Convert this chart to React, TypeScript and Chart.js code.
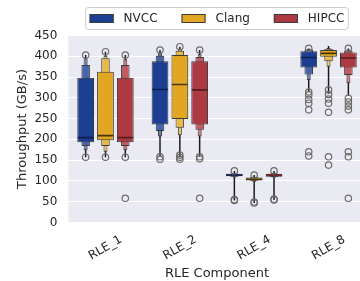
import React, { useEffect, useRef } from 'react';
import { Chart, registerables } from 'chart.js';

Chart.register(...registerables);

const categories = ['RLE_1', 'RLE_2', 'RLE_4', 'RLE_8'];
const compilers = ['NVCC', 'Clang', 'HIPCC'];
const yMin = 0;
const yMax = 450;
const yStep = 50;

// Letter-value boxes per category: [low, high]
const nvccBox1 = [[193, 348], [236, 388], [111, 117], [373, 412]];
const nvccBox2 = [[184, 379], [220, 401], [110, 118], [356, 416]];
const nvccBox3 = [[174, 395], [207, 407], [108, 119], [343, 418]];
const nvccTail = [[157, 403], [158, 415], [53, 124], [315, 419]];
const nvccMedian = [204, 320, 114, 397];
const nvccOutliers = [[403, 157], [415, 158, 152], [124, 53, 55], [419, 314, 307, 296, 287, 271, 170, 160]];

const clangBox1 = [[198, 363], [249, 403], [101, 108], [399, 415]];
const clangBox2 = [[184, 395], [228, 413], [100, 109], [388, 418]];
const clangBox3 = [[170, 401], [210, 418], [98, 110], [375, 420]];
const clangTail = [[157, 411], [157, 423], [47, 114], [310, 425]];
const clangMedian = [209, 332, 104, 407];
const clangOutliers = [[411, 157], [423, 162, 157, 152], [114, 47, 49], [319, 308, 297, 287, 265, 158, 138]];

const hipccBox1 = [[193, 348], [236, 388], [110, 117], [373, 409]];
const hipccBox2 = [[184, 379], [223, 398], [109, 118], [355, 413]];
const hipccBox3 = [[174, 393], [207, 405], [108, 119], [335, 416]];
const hipccTail = [[157, 403], [158, 415], [54, 124], [305, 419]];
const hipccMedian = [204, 319, 114, 396];
const hipccOutliers = [[403, 157, 58], [415, 158, 153, 58], [124, 54, 56], [419, 299, 290, 280, 271, 170, 158, 58]];

const nvccColors = ['#1c3f94', '#4566ad', '#7189c0'];
const clangColors = ['#e1a622', '#e9ba4a', '#efcb75'];
const hipccColors = ['#ad3a43', '#c15a61', '#d17e84'];
const medianColors = ['#0d1f4d', '#4a3508', '#561c21'];

const FONT = '"DejaVu Sans", "Liberation Sans", sans-serif';
const TEXT = '#262626';
const EDGE = '#3a3a3a';
const SLOT = 0.8 / 3;
const LEVEL_WIDTHS = [0.845, 0.43, 0.2];
const TAIL_WIDTH = 0.075;

export default function App() {
  const ref = useRef<HTMLCanvasElement>(null);

  useEffect(() => {
    if (!ref.current) return;
    Chart.defaults.font.family = FONT;

    const hues = [
      { name: compilers[0], boxes: [nvccBox1, nvccBox2, nvccBox3], tail: nvccTail, median: nvccMedian, outliers: nvccOutliers, colors: nvccColors, med: medianColors[0] },
      { name: compilers[1], boxes: [clangBox1, clangBox2, clangBox3], tail: clangTail, median: clangMedian, outliers: clangOutliers, colors: clangColors, med: medianColors[1] },
      { name: compilers[2], boxes: [hipccBox1, hipccBox2, hipccBox3], tail: hipccTail, median: hipccMedian, outliers: hipccOutliers, colors: hipccColors, med: medianColors[2] },
    ];
    const offsets = [-SLOT, 0, SLOT];

    const datasets: any[] = [];
    hues.forEach((h, hi) => {
      const off = offsets[hi];
      h.boxes.forEach((lv, li) => {
        datasets.push({
          type: 'bar',
          label: h.name + ' level ' + (li + 1),
          data: lv.map((r, i) => ({ x: i + off, y: r })),
          backgroundColor: h.colors[li],
          borderColor: EDGE,
          borderWidth: 1,
          borderSkipped: false,
          grouped: false,
          categoryPercentage: 1,
          barPercentage: LEVEL_WIDTHS[li],
          order: 2 + li,
        });
      });
      datasets.push({
        type: 'bar',
        label: h.name + ' tail',
        data: h.tail.map((r, i) => ({ x: i + off, y: r })),
        backgroundColor: '#1a1a1a',
        borderWidth: 0,
        grouped: false,
        categoryPercentage: 1,
        barPercentage: TAIL_WIDTH,
        order: 6,
      });
      datasets.push({
        type: 'scatter',
        label: h.name + ' median',
        data: h.median.map((m, i) => ({ x: i + off, y: m })),
        pointStyle: 'line',
        pointRadius: (c: any) => {
          const s = c.chart.scales.x;
          return Math.abs(s.getPixelForValue(SLOT * LEVEL_WIDTHS[0]) - s.getPixelForValue(0)) / 2 - 0.5;
        },
        pointBorderColor: h.med,
        pointBorderWidth: 1.6,
        order: 1,
      });
      datasets.push({
        type: 'scatter',
        label: h.name + ' outliers',
        data: h.outliers.flatMap((vals, i) => vals.map((v) => ({ x: i + off, y: v }))),
        pointStyle: 'circle',
        pointRadius: 3.2,
        pointBackgroundColor: 'rgba(0,0,0,0)',
        pointBorderColor: '#6b6b6b',
        pointBorderWidth: 1.2,
        order: 0,
      });
    });

    const decor = {
      id: 'decor',
      beforeDraw(chart: any) {
        const { ctx, chartArea: a } = chart;
        ctx.save();
        ctx.fillStyle = '#eaeaf2';
        ctx.fillRect(a.left, a.top, a.right - a.left, a.bottom - a.top);
        ctx.restore();
      },
      afterDraw(chart: any) {
        const { ctx, chartArea: a } = chart;
        const xs = chart.scales.x;
        // category tick labels, rotated 30 degrees, centred on the tick
        ctx.save();
        ctx.font = '12px ' + FONT;
        ctx.fillStyle = TEXT;
        ctx.textAlign = 'center';
        ctx.textBaseline = 'middle';
        categories.forEach((c, i) => {
          ctx.save();
          ctx.translate(xs.getPixelForValue(i), a.bottom + 25.5);
          ctx.rotate(-Math.PI / 6);
          ctx.fillText(c, 0, 0);
          ctx.restore();
        });
        ctx.restore();

        // legend
        ctx.save();
        ctx.font = '12px ' + FONT;
        const patchW = 24, patchH = 9, textPad = 10, colSp = 24, padL = 4, padR = 4;
        const widths = compilers.map((n) => ctx.measureText(n).width);
        const total = padL + padR + widths.reduce((s, w) => s + patchW + textPad + w, 0) + colSp * (compilers.length - 1);
        const cx = (a.left + a.right) / 2;
        const left = cx - total / 2;
        const top = 7.5, h = 22;
        ctx.beginPath();
        if (ctx.roundRect) ctx.roundRect(left, top, total, h, 3);
        else ctx.rect(left, top, total, h);
        ctx.fillStyle = 'rgba(255,255,255,0.8)';
        ctx.fill();
        ctx.strokeStyle = '#cccccc';
        ctx.lineWidth = 1;
        ctx.stroke();
        const cy = top + h / 2;
        let x = left + padL;
        const legendColors = [nvccColors[0], clangColors[0], hipccColors[0]];
        compilers.forEach((n, i) => {
          ctx.fillStyle = legendColors[i];
          ctx.fillRect(x, cy - patchH / 2, patchW, patchH);
          ctx.strokeStyle = EDGE;
          ctx.strokeRect(x + 0.5, cy - patchH / 2 + 0.5, patchW - 1, patchH - 1);
          ctx.fillStyle = TEXT;
          ctx.textAlign = 'left';
          ctx.textBaseline = 'middle';
          ctx.fillText(n, x + patchW + textPad, cy + 0.5);
          x += patchW + textPad + widths[i] + colSp;
        });
        ctx.restore();
      },
    };

    const chart = new Chart(ref.current, {
      type: 'bar',
      data: { datasets },
      options: {
        animation: false,
        responsive: true,
        maintainAspectRatio: false,
        events: [],
        layout: { padding: { top: 35.5, right: 2, left: 0, bottom: 0 } },
        plugins: { legend: { display: false }, tooltip: { enabled: false } },
        scales: {
          x: {
            type: 'linear',
            min: -0.5,
            max: 3.5,
            offset: false,
            ticks: { display: false, stepSize: 1 },
            grid: { display: false, offset: false },
            border: { display: false },
            title: { display: true, text: 'RLE Component', color: TEXT, font: { size: 13, family: FONT }, padding: { top: 0, bottom: 0 } },
            afterFit: (s: any) => { s.height = 58.6; },
          },
          y: {
            type: 'linear',
            min: yMin,
            max: yMax,
            ticks: { stepSize: yStep, color: TEXT, font: { size: 12, family: FONT }, padding: 11 },
            grid: { color: '#ffffff', lineWidth: 1, drawTicks: false },
            border: { display: false },
            title: { display: true, text: 'Throughput (GB/s)', color: TEXT, font: { size: 13, family: FONT }, padding: { top: 14.7, bottom: 0 } },
            afterFit: (s: any) => { s.width = 68.3; },
          },
        },
      } as any,
      plugins: [decor],
    });
    return () => chart.destroy();
  }, []);

  return (
    <div style={{ position: 'fixed', left: 0, top: 0, width: 360, height: 281, overflow: 'hidden', background: '#ffffff' }}>
      <div style={{ position: 'relative', width: 375.2, height: 281 }}>
        <canvas ref={ref} />
      </div>
    </div>
  );
}
